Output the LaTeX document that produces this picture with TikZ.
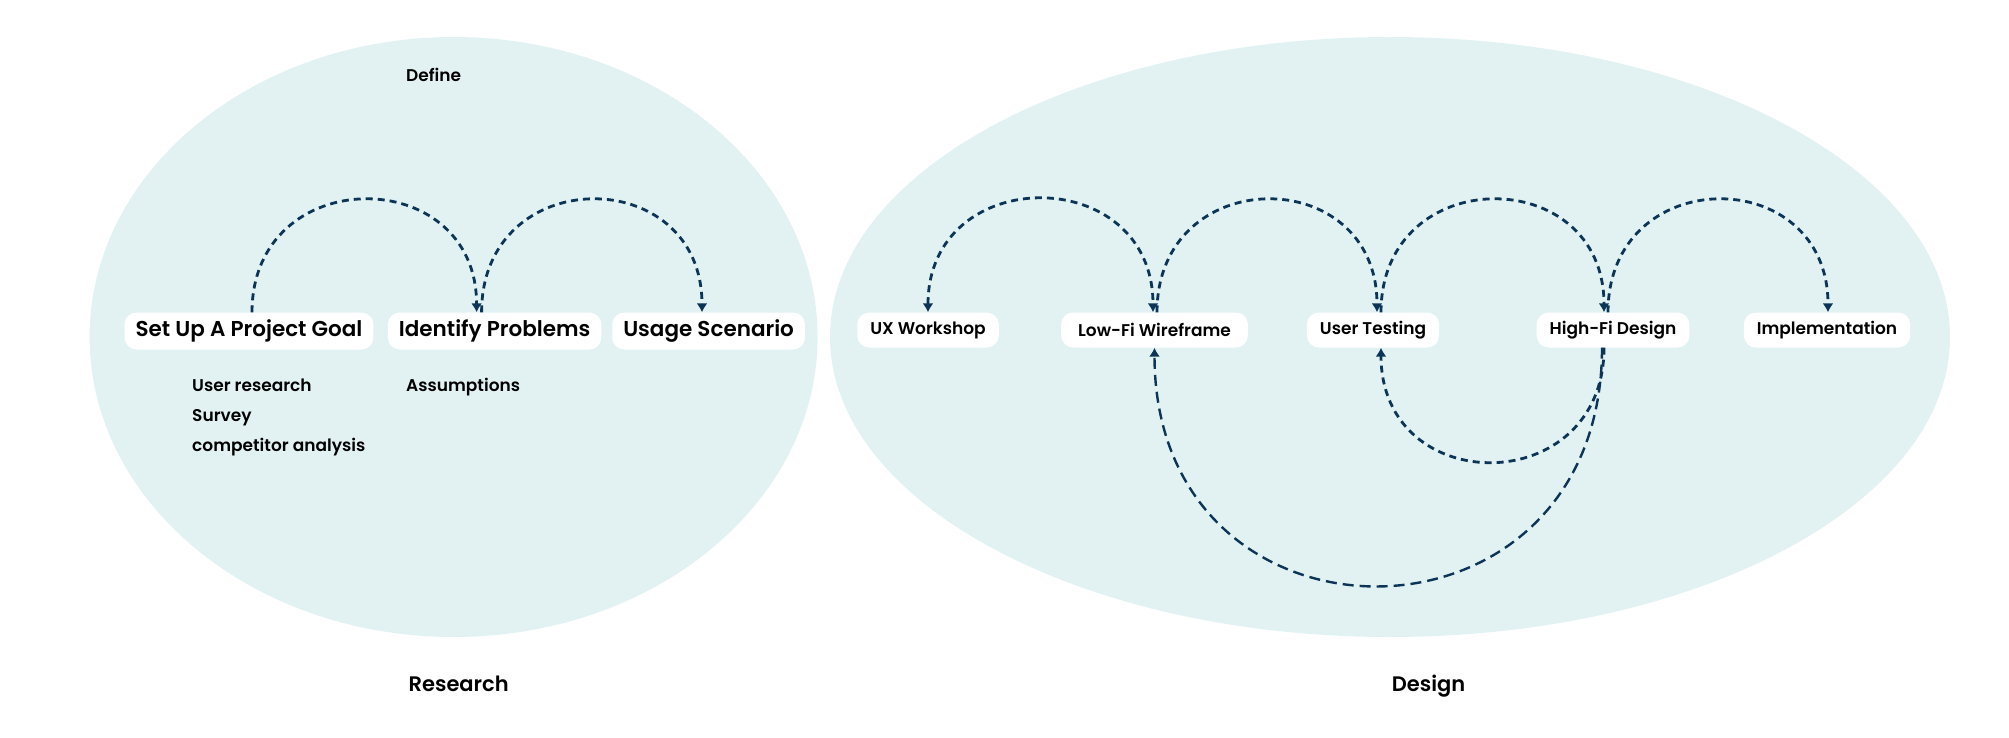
\documentclass[tikz,border=0pt]{standalone}
\usepackage{fontspec}
\setmainfont{Poppins}[UprightFont={* SemiBold}]
\usetikzlibrary{arrows.meta}
\definecolor{bubble}{RGB}{226,242,242}
\definecolor{navy}{RGB}{12,52,86}

\begin{document}
\begin{tikzpicture}[x=1pt,y=-1pt,
    stage/.style={fill=white,rounded corners=12pt,inner xsep=11pt,minimum height=37pt,font=\fontsize{21.5}{26}\selectfont},
    smallstage/.style={stage,inner xsep=13pt,minimum height=35pt,font=\fontsize{17}{20}\selectfont},
    note/.style={anchor=base west,inner sep=0pt,font=\fontsize{17}{20}\selectfont},
    phase/.style={anchor=base,font=\fontsize{21}{25}\selectfont},
    loop/.style={draw=navy,line width=2.8pt,dash pattern=on 7pt off 5pt,-{Latex[length=9pt,width=11pt]}}]

            \useasboundingbox (0,0) rectangle (2009,738);
            \fill[bubble] (453.6,337) ellipse [x radius=364, y radius=300];
            \fill[bubble] (1390,337) ellipse [x radius=560, y radius=300];

            \begin{scope}[every node/.style={stage}]
                \node (goal) at (249,331) {Set Up A Project Goal};
                \node (probs) at (494.6,331) {Identify Problems};
                \node (usage) at (708.6,331) {Usage Scenario};
            \end{scope}

            \begin{scope}[every node/.style={smallstage}]
                \node (ux) at (928,330) {UX Workshop};
                \node[inner xsep=17pt] (lofi) at (1154.5,330) {Low-Fi Wireframe};
                \node (test) at (1373,330) {User Testing};
                \node (hifi) at (1613,330) {High-Fi Design};
                \node (impl) at (1827,330) {Implementation};
            \end{scope}

            \node[note] (define) at (406,82) {Define};
            \node[note] (research1) at (192,391) {User research};
            \node[note] (research2) at (192,421) {Survey};
            \node[note] (research3) at (192,451) {competitor analysis};
            \node[note] (assume) at (406,391) {Assumptions};
            \node[phase] (research) at (458.7,691) {Research};
            \node[phase] (design) at (1428.6,691) {Design};

            \begin{scope}
                \draw[loop] ([xshift=3pt]goal.north) .. controls +(0,-150) and +(0,-150) .. ([xshift=-18pt]probs.north);
                \draw[loop] ([xshift=-13pt]probs.north) .. controls +(0,-150) and +(0,-150) .. ([xshift=-6.6pt]usage.north);
                \draw[loop,{Latex[length=9pt,width=11pt]}-{Latex[length=9pt,width=11pt]}] (ux.north) .. controls +(0,-150) and +(0,-150) .. ([xshift=-1.5pt]lofi.north);
                \draw[loop] ([xshift=2.5pt]lofi.north) .. controls +(0,-150) and +(0,-150) .. ([xshift=4pt]test.north);
                \draw[loop] ([xshift=8pt]test.north) .. controls +(0,-150) and +(0,-150) .. ([xshift=-9pt]hifi.north);
                \draw[loop] ([xshift=-5pt]hifi.north) .. controls +(0,-150) and +(0,-150) .. ([xshift=1pt]impl.north);
                \draw[loop] ([xshift=-9pt]hifi.south) .. controls +(0,152) and +(0,152) .. ([xshift=8pt]test.south);
                \draw[loop,dash pattern=on 11pt off 6pt,line width=2.4pt] ([xshift=-11pt]hifi.south) .. controls +(0,317) and +(0,317) .. (lofi.south);
            \end{scope}
\end{tikzpicture}
\end{document}
